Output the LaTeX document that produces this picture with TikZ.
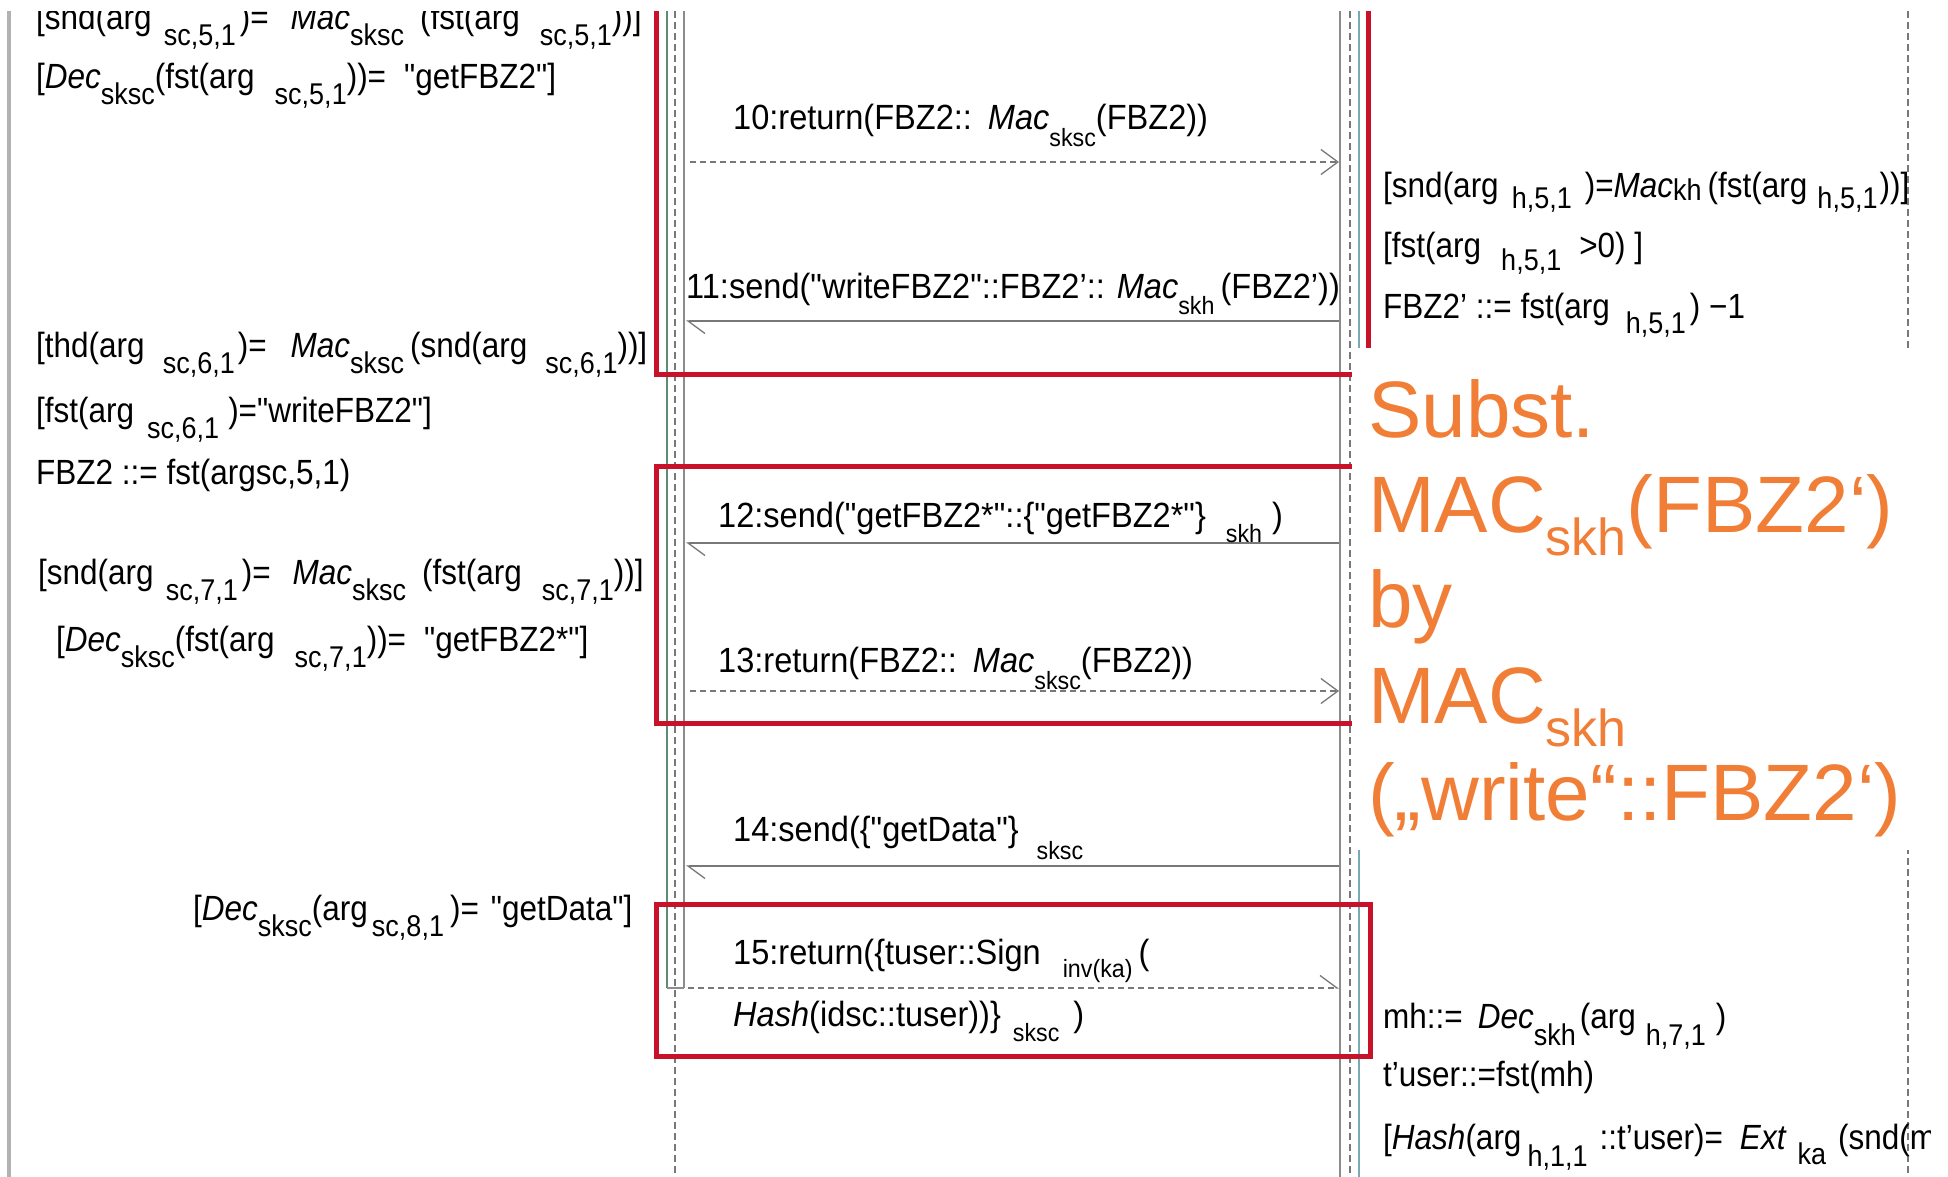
\documentclass[tikz,border=0pt]{standalone}
\usepackage{fontspec}
\setmainfont{Liberation Sans}
\newfontfamily\umlfont[FakeStretch=0.9]{Liberation Sans}
\newfontfamily\msgfont[FakeStretch=0.93]{Liberation Sans}
\usetikzlibrary{arrows.meta}

\definecolor{boxred}{RGB}{200,18,42}
\definecolor{noteorange}{RGB}{241,126,54}
\definecolor{lifegray}{RGB}{120,120,120}
\definecolor{linegray}{RGB}{140,140,140}
\definecolor{barleft}{RGB}{95,140,115}
\definecolor{barright}{RGB}{120,170,180}

% lowered index text in the sequence labels
\newcommand\losize{30}
\newcommand\lo[2][16]{\raisebox{-#1pt}{\fontsize{\losize}{\losize}\selectfont #2}}
\newcommand\hgap[1]{\hspace{#1pt}}
% lowered index text in the note
\newcommand\osub[1]{\raisebox{-23pt}{\fontsize{52}{52}\selectfont #1}}

\tikzset{
  txt/.style={anchor=base west, inner sep=0pt, font=\umlfont\fontsize{35}{42}\selectfont},
  msg/.style={anchor=base west, inner sep=0pt,
    font=\msgfont\fontsize{35}{42}\selectfont\renewcommand\losize{25}},
  note/.style={anchor=base west, inner sep=0pt, text=noteorange, font=\fontsize{80}{90}\selectfont},
  lifeline/.style={draw=lifegray, line width=1.2pt, dash pattern=on 7pt off 4pt},
  actgray/.style={draw=linegray, line width=1.4pt},
  actleft/.style={draw=barleft, line width=1.4pt},
  actright/.style={draw=barright, line width=1.4pt},
  call/.style={draw=lifegray, line width=1.3pt,
    -{Straight Barb[left, length=17pt, width=25pt]}},
  reply/.style={draw=lifegray, line width=1.3pt, dash pattern=on 6pt off 4pt,
    -{Straight Barb[length=17pt, width=25pt]}},
  replyhalf/.style={draw=lifegray, line width=1.3pt, dash pattern=on 6pt off 4pt,
    -{Straight Barb[left, length=17pt, width=25pt]}},
  hilite/.style={draw=boxred, line width=5pt},
}

\begin{document}
\begin{tikzpicture}[x=1pt,y=-1pt]
\useasboundingbox (0,0) rectangle (1948,1177);
\fill[white] (0,0) rectangle (1948,1177);

\begin{scope}
\clip (0,12) rectangle (1930,1177);

% margin bar on the left
\fill[gray!60] (7,0) rectangle (11,1177);

% lifelines
\coordinate (scT) at (675,0);  \coordinate (scB) at (675,1177);
\coordinate (hT)  at (1350,0); \coordinate (hB)  at (1350,1177);
\coordinate (kT)  at (1908,0); \coordinate (kB)  at (1908,1177);
\draw[lifeline] (scT) -- (scB);
\draw[lifeline] (hT) -- (hB);
\draw[lifeline] (kT) -- (kB);

% activation bars
\draw[actleft] (667,0) -- (667,988);
\draw[actgray] (684,0) -- (684,988);
\draw[actgray] (667,988) -- (684,988);
\draw[actgray] (1340,0) -- (1340,1177);
\draw[actright] (1359,0) -- (1359,1177);

% message endpoints
\coordinate (s10) at (690,162);  \coordinate (h10) at (1339,162);
\coordinate (h11) at (1339,321); \coordinate (s11) at (686,321);
\coordinate (h12) at (1339,543); \coordinate (s12) at (686,543);
\coordinate (s13) at (690,691);  \coordinate (h13) at (1339,691);
\coordinate (h14) at (1339,866); \coordinate (s14) at (686,866);
\coordinate (s15) at (688,988);  \coordinate (h15) at (1339,988);

\draw[reply] (s10) -- (h10);
\draw[call]  (h11) -- (s11);
\draw[call]  (h12) -- (s12);
\draw[reply] (s13) -- (h13);
\draw[call]  (h14) -- (s14);
\draw[replyhalf] (s15) -- (h15);

% message labels
\node[msg] (m10) at (733,130) {10:return(FBZ2::\hgap{16}\textit{Mac}\lo[17]{sksc}(FBZ2))};
\node[msg] (m11) at (686,298) {11:send("writeFBZ2"::FBZ2’::\hgap{12}\textit{Mac}\lo[16]{skh}\hgap{6}(FBZ2’))};
\node[msg] (m12) at (718,527) {12:send("getFBZ2*"::\{"getFBZ2*"\}\hgap{20}\lo[15]{skh}\hgap{10})};
\node[msg] (m13) at (718,672) {13:return(FBZ2::\hgap{16}\textit{Mac}\lo[17]{sksc}(FBZ2))};
\node[msg] (m14) at (733,841) {14:send(\{"getData"\}\hgap{18}\lo[18]{sksc}};
\node[msg] (m15a) at (733,964) {15:return(\{tuser::Sign\hgap{22}\lo[13]{inv(ka)}\hgap{6}(};
\node[msg] (m15b) at (733,1026) {\textit{Hash}(idsc::tuser))\}\hgap{12}\lo[15]{sksc}\hgap{14})};

% guards and assignments of the sc lifeline
\node[txt] (l1) at (36,30)  {[snd(arg\hgap{12}\lo{sc,5,1}\hgap{4})=\hgap{22}\textit{Mac}\lo{sksc}\hgap{16}(fst(arg\hgap{20}\lo{sc,5,1}))]};
\node[txt] (l2) at (36,89)  {[\textit{Dec}\lo{sksc}(fst(arg\hgap{20}\lo{sc,5,1}))=\hgap{18}"getFBZ2"]};
\node[txt] (l3) at (36,357) {[thd(arg\hgap{18}\lo{sc,6,1}\hgap{3})=\hgap{24}\textit{Mac}\lo{sksc}\hgap{6}(snd(arg\hgap{18}\lo{sc,6,1}))]};
\node[txt] (l4) at (36,422) {[fst(arg\hgap{13}\lo{sc,6,1}\hgap{9})="writeFBZ2"]};
\node[txt] (l5) at (36,484) {FBZ2 ::= fst(argsc,5,1)};
\node[txt] (l6) at (38,584) {[snd(arg\hgap{12}\lo{sc,7,1}\hgap{4})=\hgap{22}\textit{Mac}\lo{sksc}\hgap{16}(fst(arg\hgap{20}\lo{sc,7,1}))]};
\node[txt] (l7) at (56,651) {[\textit{Dec}\lo{sksc}(fst(arg\hgap{20}\lo{sc,7,1}))=\hgap{18}"getFBZ2*"]};
\node[txt] (l8) at (193,920) {[\textit{Dec}\lo{sksc}(arg\hgap{4}\lo{sc,8,1}\hgap{6})=\hgap{12}"getData"]};

% guards and assignments of the h lifeline
\node[txt] (r1) at (1383,197) {[snd(arg\hgap{13}\lo[11]{h,5,1}\hgap{13})=\textit{Mac}\lo[3]{kh}\hgap{6}(fst(arg\hgap{10}\lo[11]{h,5,1}\hgap{2}))]};
\node[txt] (r2) at (1383,257) {[fst(arg\hgap{20}\lo[13]{h,5,1}\hgap{18}>0) ]};
\node[txt] (r3) at (1383,318) {FBZ2’ ::= fst(arg\hgap{16}\lo[15]{h,5,1}\hgap{4}) −1};
\node[txt] (r4) at (1383,1028) {mh::=\hgap{15}\textit{Dec}\lo[17]{skh}\hgap{4}(arg\hgap{10}\lo[17]{h,7,1}\hgap{10})};
\node[txt] (r5) at (1383,1086) {t’user::=fst(mh)};
\node[txt] (r6) at (1383,1149) {[\textit{Hash}(arg\hgap{6}\lo[17]{h,1,1}\hgap{12}::t’user)=\hgap{17}\textit{Ext}\hgap{11}\lo[15]{ka}\hgap{12}(snd(m};

% highlighted message groups
\draw[hilite] (656,-20) rectangle (1368,374);
\draw[hilite] (656,466) rectangle (1368,723);
\draw[hilite] (656,904) rectangle (1370,1056);

% substitution note
\fill[white] (1352,348) rectangle (1948,850);
\node[note] (n1) at (1368,437) {Subst.};
\node[note] (n2) at (1368,532) {MAC\osub{skh}(FBZ2‘)};
\node[note] (n3) at (1368,627) {by};
\node[note] (n4) at (1368,723) {MAC\osub{skh}};
\node[note] (n5) at (1368,820) {(„write“::FBZ2‘)};
\end{scope}
\end{tikzpicture}
\end{document}
